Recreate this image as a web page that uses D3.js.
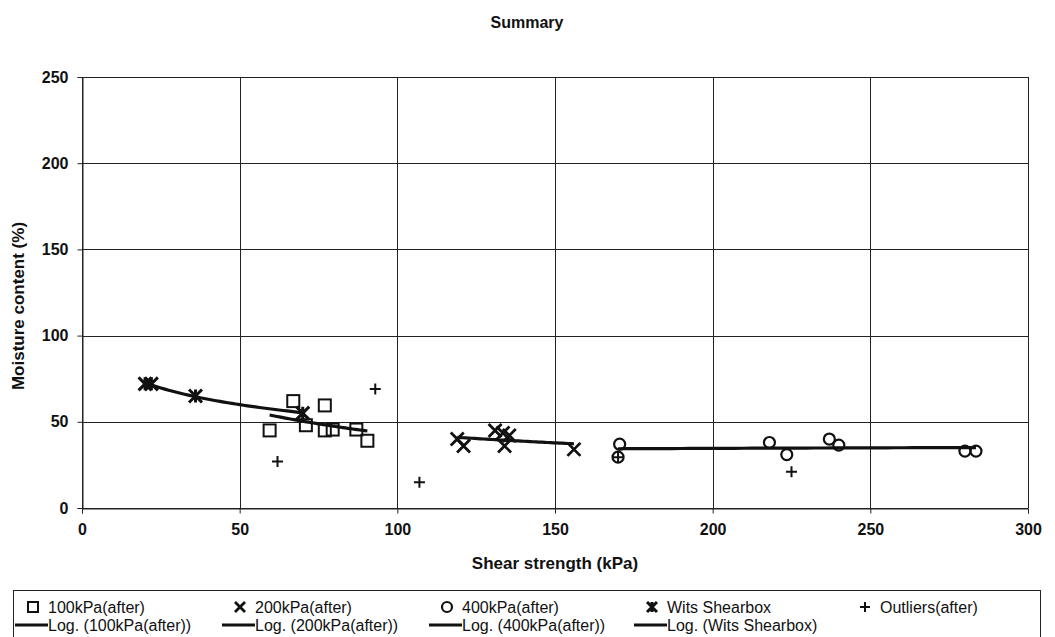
<!DOCTYPE html>
<html>
<head>
<meta charset="utf-8">
<script src="https://cdn.jsdelivr.net/npm/d3@7"></script>
<style>
  html, body { margin: 0; padding: 0; background: #fff; }
  svg { display: block; font-family: "Liberation Sans", Arial, sans-serif; }
</style>
</head>
<body>
<svg id="chart" width="1055" height="637"></svg>
<script>
// Shear strength (kPa) and moisture content (%) per test series
const kpa100Strength = [59.5, 67, 71, 77, 77, 79.5, 87, 90.5];
const kpa100Moisture = [45, 62, 48, 59.5, 45, 45.5, 45.5, 39];

const kpa200Strength = [119, 121, 131, 133.5, 135.5, 134, 156];
const kpa200Moisture = [40, 36, 45, 43.5, 42, 36, 34];

const kpa400Strength = [170.5, 170, 218, 223.5, 237, 240, 280, 283.5];
const kpa400Moisture = [37, 29.5, 38, 31, 40, 36.5, 33, 33];

const witsStrength = [20, 22, 36, 70];
const witsMoisture = [72, 72, 65, 55];

const outlierStrength = [62, 93, 107, 170, 225];
const outlierMoisture = [27, 69, 15, 29.5, 21];

const xTicks = [0, 50, 100, 150, 200, 250, 300];
const yTicks = [0, 50, 100, 150, 200, 250];

const legendRow1 = ["100kPa(after)", "200kPa(after)", "400kPa(after)", "Wits Shearbox", "Outliers(after)"];
const legendRow2 = ["Log. (100kPa(after))", "Log. (200kPa(after))", "Log. (400kPa(after))", "Log. (Wits Shearbox)"];

const svg = d3.select("#chart");
const plot = { left: 82, right: 1028, top: 77, bottom: 508 };

const x = d3.scaleLinear().domain([0, 300]).range([plot.left, plot.right]);
const y = d3.scaleLinear().domain([0, 250]).range([plot.bottom, plot.top]);

const ink = "#111";

// Title
svg.append("text")
  .attr("x", 527).attr("y", 28)
  .attr("text-anchor", "middle")
  .attr("font-weight", "bold").attr("font-size", 16)
  .attr("fill", ink)
  .text("Summary");

// Gridlines
const grid = svg.append("g").attr("stroke", "#222").attr("stroke-width", 1).attr("shape-rendering", "crispEdges");
grid.selectAll("line.h").data(yTicks).join("line")
  .attr("x1", plot.left).attr("x2", plot.right)
  .attr("y1", d => Math.round(y(d)) + 0.5).attr("y2", d => Math.round(y(d)) + 0.5);
grid.selectAll("line.v").data(xTicks).join("line")
  .attr("y1", plot.top).attr("y2", plot.bottom)
  .attr("x1", d => Math.round(x(d)) + 0.5).attr("x2", d => Math.round(x(d)) + 0.5);

// Axes
const xAxis = svg.append("g")
  .attr("transform", `translate(0,${Math.round(plot.bottom) + 0.5})`)
  .call(d3.axisBottom(x).tickValues(xTicks).tickSize(5).tickPadding(10));
const yAxis = svg.append("g")
  .attr("transform", `translate(${Math.round(plot.left) + 0.5},0)`)
  .call(d3.axisLeft(y).tickValues(yTicks).tickSize(5).tickPadding(9));
[xAxis, yAxis].forEach(a => {
  a.select(".domain").attr("stroke", "#222");
  a.selectAll(".tick line").attr("stroke", "#222");
  a.selectAll(".tick text")
    .attr("font-family", "'Liberation Sans', Arial, sans-serif")
    .attr("font-size", 16).attr("font-weight", "bold").attr("fill", ink);
});

// Axis titles
svg.append("text")
  .attr("x", 555).attr("y", 569)
  .attr("text-anchor", "middle")
  .attr("font-weight", "bold").attr("font-size", 17).attr("fill", ink)
  .text("Shear strength (kPa)");
svg.append("text")
  .attr("transform", "translate(24,306) rotate(-90)")
  .attr("text-anchor", "middle")
  .attr("font-weight", "bold").attr("font-size", 17).attr("fill", ink)
  .text("Moisture content (%)");

// Marker shapes
const markers = {
  square: (g, s) => g.append("rect").attr("x", -s / 2).attr("y", -s / 2).attr("width", s).attr("height", s)
    .attr("fill", "none").attr("stroke", ink).attr("stroke-width", 2),
  cross: (g, s) => g.append("path").attr("d", `M${-s/2},${-s/2}L${s/2},${s/2}M${-s/2},${s/2}L${s/2},${-s/2}`)
    .attr("stroke", ink).attr("stroke-width", 2.8).attr("fill", "none"),
  circle: (g, s) => g.append("circle").attr("r", s / 2)
    .attr("fill", "none").attr("stroke", ink).attr("stroke-width", 2.2),
  star: (g, s) => g.append("path").attr("d", `M${-s/2},${-s/2}L${s/2},${s/2}M${-s/2},${s/2}L${s/2},${-s/2}M0,${-s/2}L0,${s/2}`)
    .attr("stroke", ink).attr("stroke-width", 3).attr("fill", "none"),
  plus: (g, s) => g.append("path").attr("d", `M${-s/2},0L${s/2},0M0,${-s/2}L0,${s/2}`)
    .attr("stroke", ink).attr("stroke-width", 2).attr("fill", "none")
};

const series = [
  { xs: kpa100Strength, ys: kpa100Moisture, shape: "square", size: 12, trend: true },
  { xs: kpa200Strength, ys: kpa200Moisture, shape: "cross", size: 13, trend: true },
  { xs: kpa400Strength, ys: kpa400Moisture, shape: "circle", size: 11, trend: true },
  { xs: witsStrength, ys: witsMoisture, shape: "star", size: 13, trend: true },
  { xs: outlierStrength, ys: outlierMoisture, shape: "plus", size: 11, trend: false }
];

// Logarithmic least-squares fit y = a*ln(x) + b
function logFit(xs, ys) {
  const lx = xs.map(Math.log);
  const mx = d3.mean(lx), my = d3.mean(ys);
  let sxy = 0, sxx = 0;
  lx.forEach((v, i) => { sxy += (v - mx) * (ys[i] - my); sxx += (v - mx) * (v - mx); });
  const a = sxy / sxx, b = my - a * mx;
  return v => a * Math.log(v) + b;
}

// Trend lines
const trendG = svg.append("g");
series.filter(s => s.trend).forEach(s => {
  const f = logFit(s.xs, s.ys);
  const [lo, hi] = d3.extent(s.xs);
  const pts = d3.range(0, 41).map(i => lo + (hi - lo) * i / 40);
  trendG.append("path")
    .datum(pts)
    .attr("d", d3.line().x(d => x(d)).y(d => y(f(d))))
    .attr("fill", "none").attr("stroke", ink).attr("stroke-width", 3.2);
});

// Points
const pointG = svg.append("g");
series.forEach(s => {
  s.xs.forEach((v, i) => {
    const g = pointG.append("g").attr("transform", `translate(${x(v)},${y(s.ys[i])})`);
    markers[s.shape](g, s.size);
  });
});

// Legend
const legend = svg.append("g");
legend.append("rect")
  .attr("x", 13.5).attr("y", 590.5).attr("width", 1027).attr("height", 60)
  .attr("fill", "#fff").attr("stroke", "#222").attr("stroke-width", 1);

const colX = [13, 220, 427, 632, 845];
legendRow1.forEach((label, i) => {
  const g = legend.append("g").attr("transform", `translate(${colX[i] + 20},607)`);
  markers[series[i].shape](g, 10);
  legend.append("text")
    .attr("x", colX[i] + 35).attr("y", 613)
    .attr("font-size", 16).attr("fill", ink)
    .text(label);
});
legendRow2.forEach((label, i) => {
  legend.append("line")
    .attr("x1", colX[i] + 2).attr("x2", colX[i] + 35)
    .attr("y1", 625).attr("y2", 625)
    .attr("stroke", ink).attr("stroke-width", 3);
  legend.append("text")
    .attr("x", colX[i] + 35).attr("y", 631)
    .attr("font-size", 16).attr("fill", ink)
    .text(label);
});
</script>
</body>
</html>
